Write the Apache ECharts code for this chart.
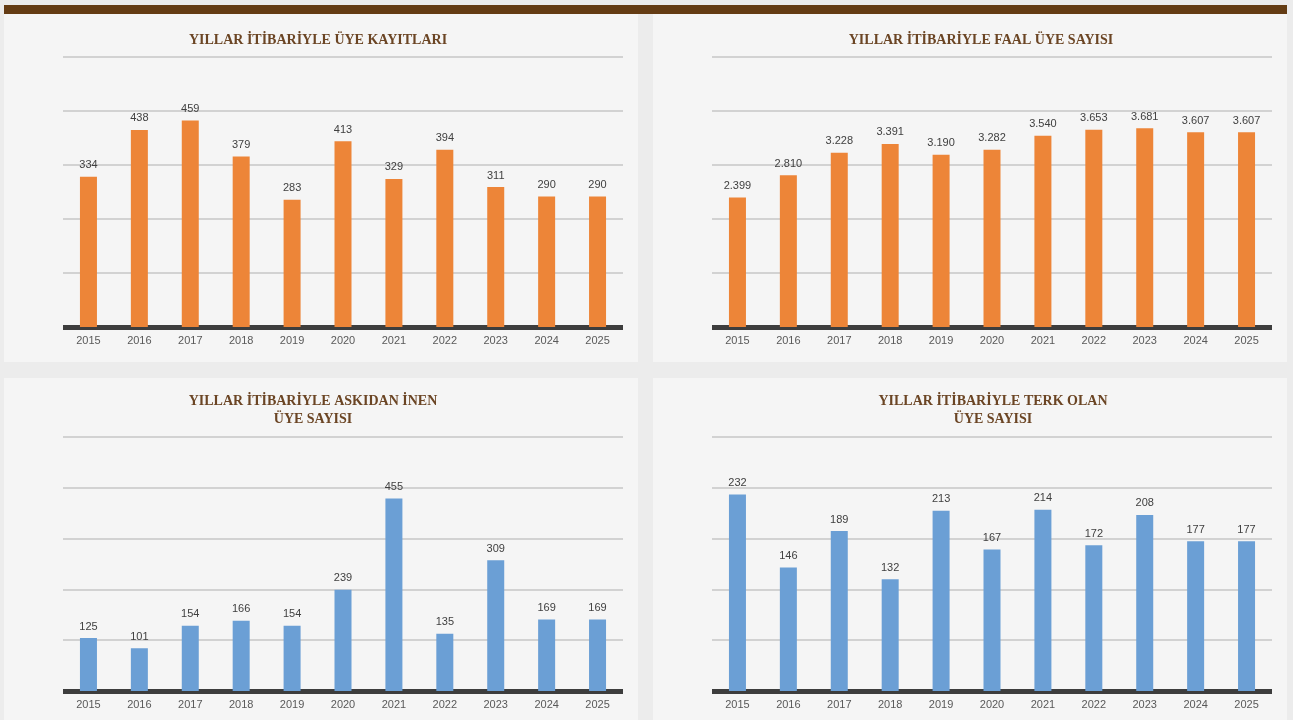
<!DOCTYPE html>
<html><head><meta charset="utf-8">
<script src="https://cdn.jsdelivr.net/npm/echarts@6/dist/echarts.min.js"></script>
<style>html,body{margin:0;padding:0;background:#ececec}#c{width:1293px;height:720px}</style>
</head><body><div id="c"></div>
<script>
var years = ['2015','2016','2017','2018','2019','2020','2021','2022','2023','2024','2025'];
var kayit = [334,438,459,379,283,413,329,394,311,290,290];
var faal = [2399,2810,3228,3391,3190,3282,3540,3653,3681,3607,3607];
var askidan = [125,101,154,166,154,239,455,135,309,169,169];
var terk = [232,146,189,132,213,167,214,172,208,177,177];
var titles = ['YILLAR İTİBARİYLE ÜYE KAYITLARI','YILLAR İTİBARİYLE FAAL ÜYE SAYISI','YILLAR İTİBARİYLE ASKIDAN İNEN\nÜYE SAYISI','YILLAR İTİBARİYLE TERK OLAN\nÜYE SAYISI'];
var yMax = [600,5000,600,300];
var yInt = [120,1000,120,60];

var orange = '#ed8538', blue = '#6b9fd5';
var grids = [
  {left:63, top:57, width:560, height:270},
  {left:712, top:57, width:560, height:270},
  {left:63, top:437, width:560, height:254},
  {left:712, top:437, width:560, height:254}
];
var datas = [kayit, faal, askidan, terk];
var colors = [orange, orange, blue, blue];
function fmt(v){ return String(v).replace(/\B(?=(\d{3})+(?!\d))/g,'.'); }

var xAxes=[], yAxes=[], series=[];
for (var i=0;i<4;i++){
  xAxes.push({gridIndex:i,type:'category',data:years,
    axisLine:{lineStyle:{color:'#3d3d3d',width:5,cap:'butt'}},axisTick:{show:false},
    axisLabel:{color:'#595959',fontSize:11,fontFamily:'Liberation Sans, Arial',margin:8}});
  yAxes.push({gridIndex:i,type:'value',min:0,max:yMax[i],interval:yInt[i],
    axisLabel:{show:false},axisLine:{show:false},axisTick:{show:false},
    splitLine:{lineStyle:{color:'#d2d2d2',width:2}}});
  series.push({type:'bar',xAxisIndex:i,yAxisIndex:i,data:datas[i],barWidth:17,
    itemStyle:{color:colors[i]},z:3,
    label:{show:true,position:'top',distance:6,color:'#404040',fontSize:11,fontFamily:'Liberation Sans, Arial',
      formatter:function(p){return fmt(p.value);}}});
}
var panels = [[4,14,634,348],[653,14,634,348],[4,378,634,342],[653,378,634,342]];
var graphic = [{type:'rect',shape:{x:4,y:5,width:1283,height:9},style:{fill:'#643c14'},z:-50}];
panels.forEach(function(p){graphic.push({type:'rect',shape:{x:p[0],y:p[1],width:p[2],height:p[3]},style:{fill:'#f5f5f5'},z:-100});});
var tpos = [[318,40],[981,40],[313,410],[993,410]];
titles.forEach(function(t,i){
  graphic.push({type:'text',x:tpos[i][0],y:tpos[i][1],z:10,style:{text:t,fill:'#6b4524',
    font:'bold 14px "Liberation Serif", "DejaVu Serif", serif',textAlign:'center',textVerticalAlign:'middle',lineHeight:18}});
});
var chart = echarts.init(document.getElementById('c'));
chart.setOption({backgroundColor:'#ececec',animation:false,grid:grids,xAxis:xAxes,yAxis:yAxes,series:series,graphic:graphic});
</script></body></html>
